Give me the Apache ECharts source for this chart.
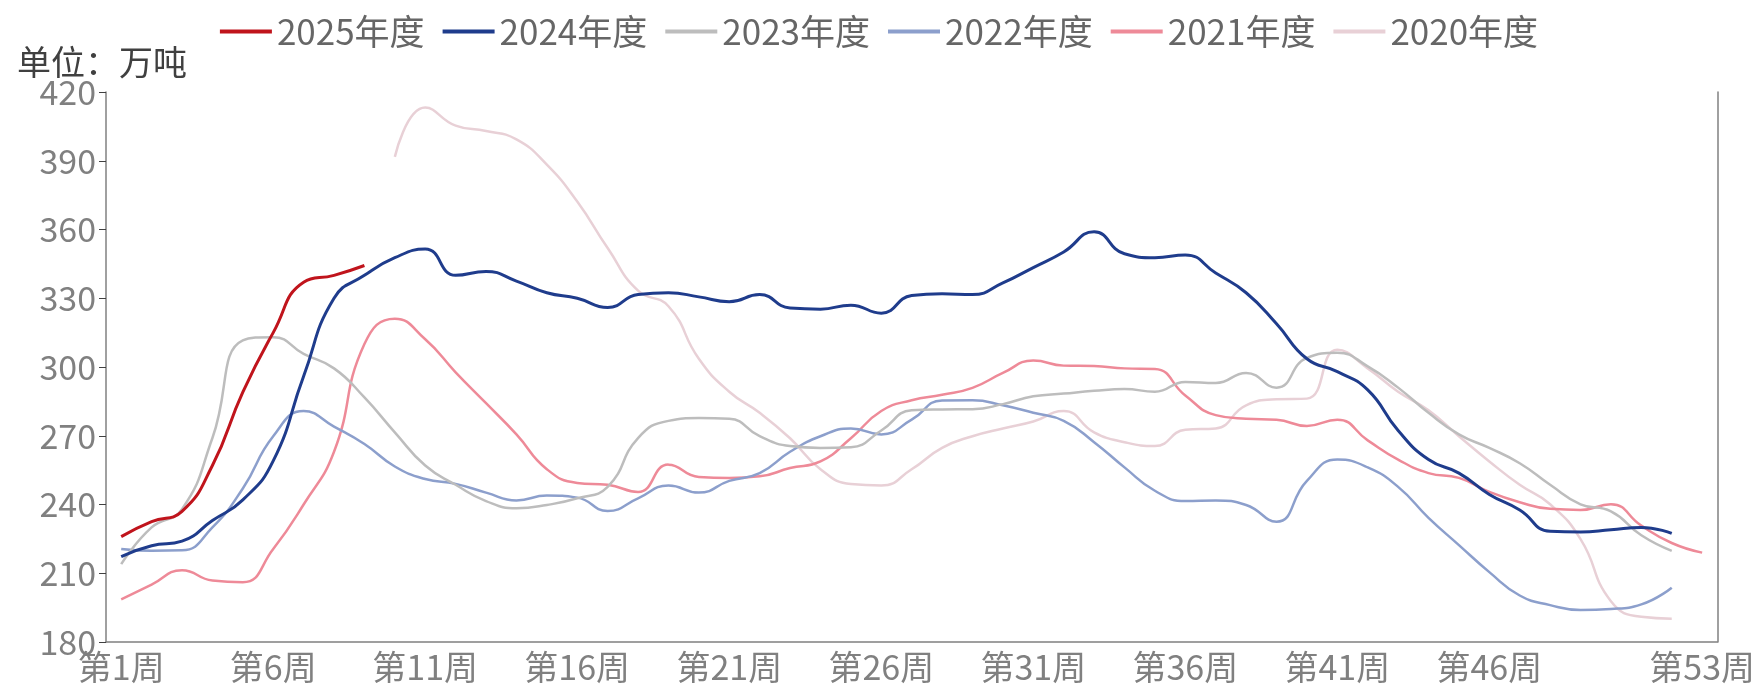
<!DOCTYPE html>
<html>
<head>
<meta charset="utf-8">
<title>库存季节性</title>
<script src="https://cdn.jsdelivr.net/npm/echarts@6/dist/echarts.min.js"></script>
<style>
  html, body { margin: 0; padding: 0; background: #fff; }
  #chart { width: 1758px; height: 689px; }
</style>
</head>
<body>
<div id="chart"></div>
<script>
// weekly values, 万吨
const weeks = Array.from({ length: 53 }, (_, i) => `第${i + 1}周`);

const y2025 = [226, 232.5, 237, 257, 289, 315, 337, 340, 344.3];

const y2024 = [217.3, 222, 224, 233, 242, 259, 296, 330, 340, 347.7,
  351.5, 340, 341.7, 337.5, 332.4, 330, 326, 331.6, 332.4, 330.6,
  328.5, 331.6, 325.7, 325.2, 327, 323.5, 331.2, 332, 331.6, 336.7,
  343.4, 350.2, 359, 349.4, 347.7, 348.9, 341, 332.4, 318.9, 303.6,
  298, 290, 272.3, 259.6, 253.7, 244.4, 237.6, 228.3, 228, 229,
  230, 227.4];

const y2023 = [214, 230, 238, 269, 311.6, 313, 305.7, 299.4, 286.7, 271.5,
  257, 248.6, 241.5, 238.4, 239.8, 242.7, 247.7, 269, 276.5, 277.7,
  277.4, 269.8, 265.5, 264.7, 265, 272.3, 281.1, 281.5, 281.6, 283.8,
  287.2, 288.4, 289.6, 290.4, 289.2, 293.5, 293, 297.4, 291, 304,
  306.2, 300.3, 291, 280, 270.6, 264.7, 258, 248.6, 240.1, 237,
  226.6, 219.8];

const y2022 = [220.6, 219.8, 220, 230, 247, 269.8, 280.8, 274, 266.4, 256.6,
  251.1, 249, 245.2, 241.8, 243.9, 243, 237.2, 242.7, 248.3, 245.2,
  250.3, 253.7, 263, 269.8, 273.2, 270.6, 277, 285.4, 285.5, 283.3,
  280, 276.5, 267.2, 256.2, 246, 241.5, 241.8, 239.8, 232.5, 250.3,
  259.6, 256.2, 247.7, 234.2, 222.3, 210.5, 200.3, 196.1, 194, 194.4,
  196.4, 203.7];

const y2021 = [198.6, 205, 211.3, 206.8, 206.1, 220.6, 240, 263, 310, 321.1,
  312.1, 297.7, 284.2, 270.6, 255.4, 249.4, 248.6, 245.5, 257.4, 252,
  251.6, 252.3, 255.9, 258.8, 268.9, 280.8, 285.5, 287.9, 290.9, 297.4,
  302.8, 300.6, 300.4, 299.4, 299.1, 287.6, 279, 277.4, 277, 274.3,
  277, 268, 259.6, 253.7, 251.6, 245.5, 241, 238.1, 237.6, 240.1,
  230.8, 223.2, 219];

const y2020 = [null, null, null, null, null, null, null, null, null, 391.7,
  413.2, 405.3, 403, 399.3, 388.3, 372.2, 351.9, 333.3, 326.5, 303.6,
  289.2, 280, 268.9, 255.4, 248.9, 248.3, 255.4, 264.7, 269.8, 273.2,
  276.2, 280.8, 271.5, 267.2, 265.5, 272.6, 273.2, 283.3, 285.9, 286.2,
  307.5, 299.4, 289.2, 281.1, 269.8, 258.8, 248.6, 240.1, 224.9, 197.8,
  191, 190.2];

const seriesNames = ["2025年度", "2024年度", "2023年度", "2022年度", "2021年度", "2020年度"];
const seriesData = [y2025, y2024, y2023, y2022, y2021, y2020];
const seriesColors = ["#C0141C", "#1F3C8C", "#BDBDBD", "#8C9FCC", "#EE8A98", "#E8D0D6"];
const lineWidths = [3, 3, 2.5, 2.5, 2.5, 2.5];

const FONT = "'Noto Sans CJK SC', 'Noto Sans', sans-serif";
const AXIS_GRAY = "#808080";

const chart = echarts.init(document.getElementById("chart"));

const option = {
  backgroundColor: "#fff",
  animation: false,
  title: {
    text: "单位：万吨",
    left: 12,
    top: 40,
    textStyle: { fontFamily: FONT, fontSize: 34, fontWeight: "normal", color: "#404040" }
  },
  legend: {
    data: seriesNames,
    top: 9,
    left: "center",
    icon: "rect",
    itemWidth: 52,
    itemHeight: 4,
    itemGap: 18,
    textStyle: { fontFamily: FONT, fontSize: 35, color: "#666" }
  },
  grid: { left: 106, right: 39, top: 92, bottom: 47, containLabel: false },
  xAxis: {
    type: "category",
    data: weeks,
    boundaryGap: true,
    axisLine: { lineStyle: { color: AXIS_GRAY, width: 1.5 } },
    axisTick: {
      length: 6,
      lineStyle: { color: "#404040" },
      interval: (i) => i % 5 === 0
    },
    axisLabel: {
      interval: (i) => (i % 5 === 0 && i < 50) || i === 52,
      fontFamily: FONT,
      fontSize: 34,
      color: AXIS_GRAY,
      margin: 8
    },
    splitLine: { show: false }
  },
  yAxis: [
    {
      type: "value",
      min: 180,
      max: 420,
      interval: 30,
      axisLine: { show: true, lineStyle: { color: AXIS_GRAY, width: 1.5 } },
      axisTick: { show: true, length: 7, lineStyle: { color: "#404040" } },
      axisLabel: { fontFamily: FONT, fontSize: 34, color: AXIS_GRAY, margin: 10 },
      splitLine: { show: false }
    },
    {
      type: "value",
      position: "right",
      min: 180,
      max: 420,
      interval: 30,
      axisLine: { show: true, lineStyle: { color: AXIS_GRAY, width: 1.5 } },
      axisTick: { show: false },
      axisLabel: { show: false },
      splitLine: { show: false }
    }
  ],
  series: seriesNames.map((name, idx) => ({
    name: name,
    type: "line",
    data: seriesData[idx],
    smooth: 0.5,
    showSymbol: false,
    connectNulls: false,
    z: 10 - idx,
    itemStyle: { color: seriesColors[idx] },
    lineStyle: { color: seriesColors[idx], width: lineWidths[idx] }
  }))
};

chart.setOption(option);
</script>
</body>
</html>
